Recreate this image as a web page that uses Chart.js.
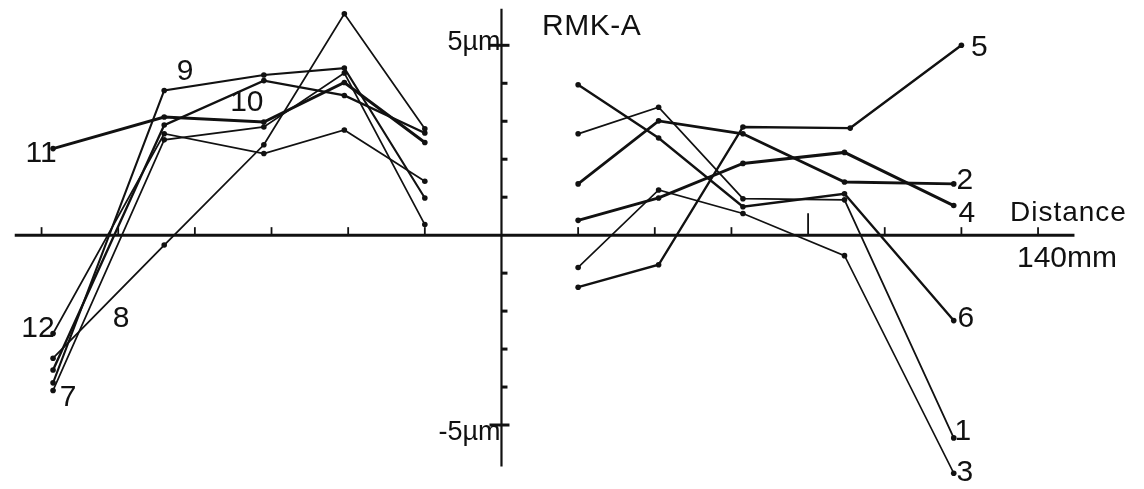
<!DOCTYPE html>
<html>
<head>
<meta charset="utf-8">
<script src="https://cdn.jsdelivr.net/npm/chart.js@4"></script>
<style>
  html, body { margin: 0; padding: 0; background: #fff; }
  #wrap { width: 1144px; height: 489px; position: relative; }
</style>
</head>
<body>
<div id="wrap"><canvas id="chart" width="1144" height="489"></canvas></div>
<script>
// measuring positions along the part, mm
const xLeft  = [-117, -88, -62, -41, -20];
const xRight = [20, 41, 63, 89.5, 118];
const x5     = [20, 41, 63, 91, 120];

// deviation, µm  (left group 7..12, right group 1..6)
const s7  = [-4.09, 2.51, 2.85, 4.27, 0.28];
const s8  = [-3.24, -0.26, 2.38, 5.83, 2.80];
const s9  = [-3.89, 3.81, 4.22, 4.40, 0.98];
const s10 = [-3.55, 2.90, 4.07, 3.68, 2.69];
const s11 = [2.28, 3.11, 2.98, 4.02, 2.44];
const s12 = [-2.59, 2.67, 2.15, 2.77, 1.42];

const s1 = [2.67, 3.37, 0.96, 0.93, -5.34];
const s2 = [1.35, 3.01, 2.67, 1.40, 1.35];
const s3 = [-0.85, 1.19, 0.57, -0.54, -6.27];
const s4 = [0.39, 0.98, 1.89, 2.18, 0.78];
const s5 = [-1.37, -0.78, 2.85, 2.82, 5.00];
const s6 = [3.96, 2.56, 0.75, 1.09, -2.25];

const xTicks = [-120, -100, -80, -60, -40, -20, 20, 40, 60, 80, 100, 120, 140];
const yTicks = [-5, -4, -3, -2, -1, 1, 2, 3, 4, 5];

// name, x positions, values, line width, label anchor [point index, dx, dy]
const series = [
    { name: "7",  xs: xLeft,  ys: s7,  w: 1.7, lab: [0, 15, 7] },
    { name: "8",  xs: xLeft,  ys: s8,  w: 1.8, lab: [1, -43, 74] },
    { name: "9",  xs: xLeft,  ys: s9,  w: 2.1, lab: [1, 21, -19] },
    { name: "10", xs: xLeft,  ys: s10, w: 2.4, lab: [2, -17, 22] },
    { name: "11", xs: xLeft,  ys: s11, w: 3.0, lab: [0, -12, 5] },
    { name: "12", xs: xLeft,  ys: s12, w: 1.7, lab: [0, -15, -5] },
    { name: "1",  xs: xRight, ys: s1,  w: 1.8, lab: [4, 9, -6] },
    { name: "2",  xs: xRight, ys: s2,  w: 2.8, lab: [4, 11, -3] },
    { name: "3",  xs: xRight, ys: s3,  w: 1.6, lab: [4, 11, 0] },
    { name: "4",  xs: xRight, ys: s4,  w: 3.0, lab: [4, 13, 8] },
    { name: "5",  xs: x5,     ys: s5,  w: 2.4, lab: [4, 18, 2] },
    { name: "6",  xs: xRight, ys: s6,  w: 2.4, lab: [4, 12, -2] }
];

const INK = "#111";
const NUM_FONT = '30px "Liberation Sans", sans-serif';

// ── axes through the origin, drawn from the scales ───────────
const axesPlugin = {
    id: "originAxes",
    beforeDatasetsDraw(chart) {
        const { ctx, scales: { x, y } } = chart;
        const x0 = x.getPixelForValue(0);
        const y0 = y.getPixelForValue(0);
        ctx.save();
        ctx.strokeStyle = INK;
        ctx.lineCap = "butt";

        // horizontal axis
        ctx.lineWidth = 3;
        ctx.beginPath();
        ctx.moveTo(x.getPixelForValue(-127), y0);
        ctx.lineTo(x.getPixelForValue(149.5), y0);
        ctx.stroke();

        // vertical axis
        ctx.lineWidth = 2.2;
        ctx.beginPath();
        ctx.moveTo(x0, y.getPixelForValue(5.96));
        ctx.lineTo(x0, y.getPixelForValue(-6.09));
        ctx.stroke();

        // x ticks, pointing up
        ctx.lineWidth = 1.8;
        xTicks.forEach(v => {
            const px = x.getPixelForValue(v);
            const len = v === 80 ? 22 : 8;
            ctx.beginPath();
            ctx.moveTo(px, y0);
            ctx.lineTo(px, y0 - len);
            ctx.stroke();
        });

        // y ticks, pointing right
        ctx.lineWidth = 3;
        yTicks.forEach(v => {
            const py = y.getPixelForValue(v);
            const big = Math.abs(v) === 5;
            ctx.beginPath();
            ctx.moveTo(x0 - (big ? 12 : 0), py);
            ctx.lineTo(x0 + (big ? 8 : 6), py);
            ctx.stroke();
        });

        // text
        ctx.fillStyle = INK;
        ctx.font = '27px "Liberation Sans", sans-serif';
        ctx.textAlign = "right";
        ctx.textBaseline = "alphabetic";
        ctx.fillText("5\u00b5m", x0 - 1, y.getPixelForValue(5) + 5);
        ctx.fillText("-5\u00b5m", x0 - 1, y.getPixelForValue(-5) + 15);

        ctx.textAlign = "left";
        ctx.font = '30px "Liberation Sans", sans-serif';
        ctx.letterSpacing = "0.5px";
        ctx.fillText("RMK-A", 542, 35);
        ctx.letterSpacing = "1px";
        ctx.font = '28px "Liberation Sans", sans-serif';
        ctx.fillText("Distance", 1010, 221);
        ctx.letterSpacing = "0px";
        ctx.font = '30px "Liberation Sans", sans-serif';
        ctx.fillText("140mm", 1017, 267);
        ctx.restore();
    },
    afterDatasetsDraw(chart) {
        const { ctx, scales: { x, y } } = chart;
        ctx.save();
        ctx.fillStyle = INK;
        ctx.font = NUM_FONT;
        ctx.textAlign = "center";
        ctx.textBaseline = "middle";
        series.forEach(s => {
            const [i, dx, dy] = s.lab;
            const px = x.getPixelForValue(s.xs[i]) + dx;
            const py = y.getPixelForValue(s.ys[i]) + dy;
            ctx.fillText(s.name, px, py);
        });
        ctx.restore();
    }
};

new Chart(document.getElementById("chart"), {
    type: "line",
    data: {
        datasets: series.map(s => ({
            label: s.name,
            data: s.xs.map((v, i) => ({ x: v, y: s.ys[i] })),
            borderColor: INK,
            backgroundColor: INK,
            borderWidth: s.w,
            pointRadius: 2.8,
            pointBorderWidth: 0,
            pointBackgroundColor: INK,
            tension: 0,
            fill: false
        }))
    },
    options: {
        responsive: false,
        devicePixelRatio: 1,
        animation: false,
        layout: { padding: 0 },
        plugins: { legend: { display: false }, tooltip: { enabled: false } },
        scales: {
            x: { type: "linear", min: -129.8, max: 166.6, display: false },
            y: { type: "linear", min: -6.58, max: 6.088, display: false }
        }
    },
    plugins: [axesPlugin]
});
</script>
</body>
</html>
